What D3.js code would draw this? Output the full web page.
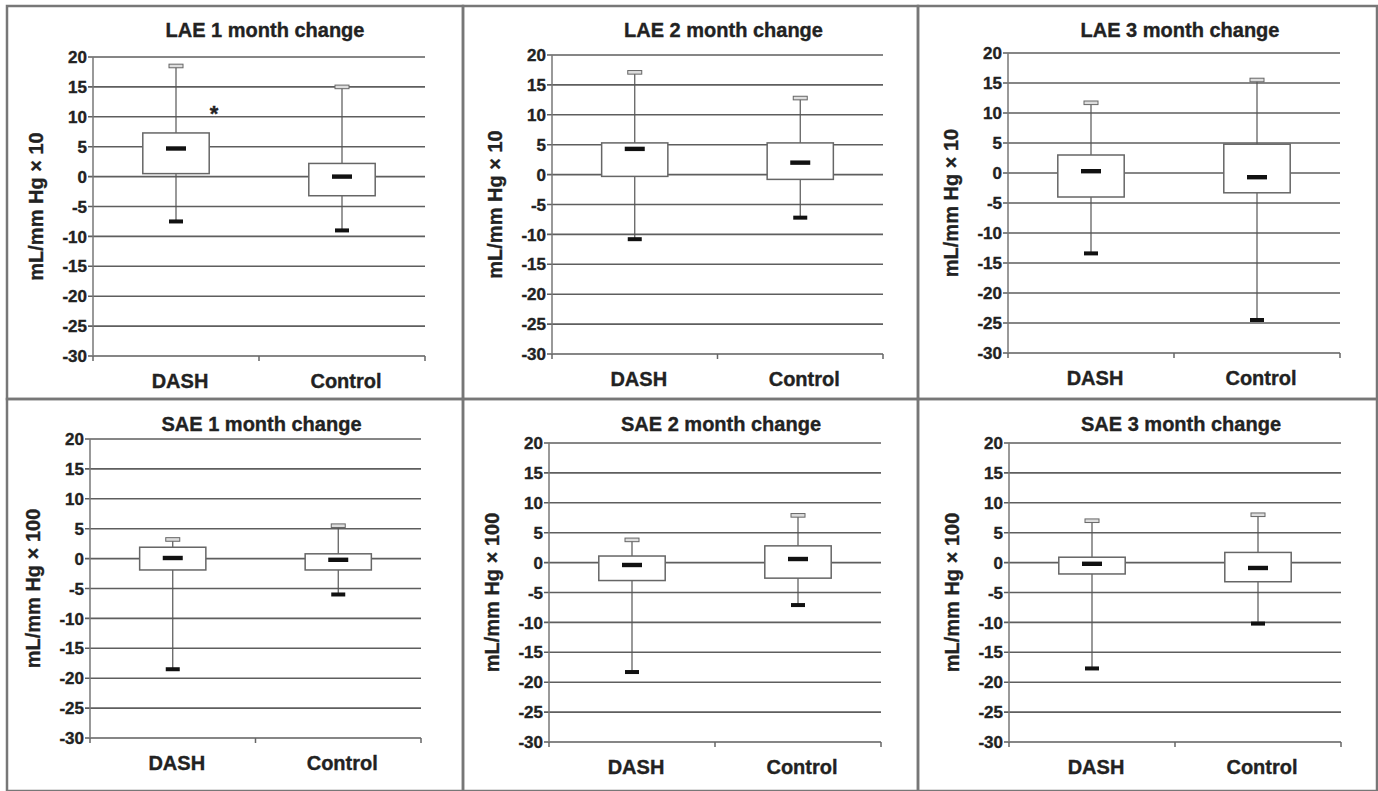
<!DOCTYPE html>
<html>
<head>
<meta charset="utf-8">
<script src="https://cdn.jsdelivr.net/npm/d3@7"></script>
<style>
  body { margin: 0; background: #fff; }
  text { font-family: Arial, "Liberation Sans", sans-serif; font-weight: bold; fill: #222; stroke: #222; stroke-width: 0.35px; }
</style>
</head>
<body>
<div id="chart"></div>
<script>
var categories = ['DASH', 'Control'];
var yTicks = [20, 15, 10, 5, 0, -5, -10, -15, -20, -25, -30];
var titles = ['LAE 1 month change', 'LAE 2 month change', 'LAE 3 month change',
              'SAE 1 month change', 'SAE 2 month change', 'SAE 3 month change'];
var yLabels = ['mL/mm Hg \u00d7 10', 'mL/mm Hg \u00d7 10', 'mL/mm Hg \u00d7 10',
               'mL/mm Hg \u00d7 100', 'mL/mm Hg \u00d7 100', 'mL/mm Hg \u00d7 100'];

// [min, q1, median, q3, max] for DASH, Control
var lae1 = [[-7.5, 0.5, 4.7, 7.3, 18.5], [-9.0, -3.2, 0.0, 2.2, 15.0]];
var lae2 = [[-10.8, -0.3, 4.3, 5.3, 17.1], [-7.2, -0.8, 2.0, 5.3, 12.8]];
var lae3 = [[-13.4, -4.0, 0.3, 3.0, 11.7], [-24.5, -3.3, -0.7, 4.8, 15.5]];
var sae1 = [[-18.5, -1.9, 0.1, 1.9, 3.2], [-6.0, -1.9, -0.2, 0.8, 5.5]];
var sae2 = [[-18.3, -3.0, -0.4, 1.1, 3.8], [-7.1, -2.6, 0.6, 2.8, 7.9]];
var sae3 = [[-17.7, -1.9, -0.2, 0.9, 7.0], [-10.2, -3.2, -0.9, 1.7, 8.0]];
var panelData = [lae1, lae2, lae3, sae1, sae2, sae3];

// significance marker: panel, category, value
var starMarks = [{ panel: 0, cat: 'DASH', value: 11.5 }];

var width = 1378, height = 791;

// panel frames and plot areas (left, top, right, bottom)
var frames = [[7, 6, 463, 399], [463, 6, 918, 399], [918, 6, 1377, 399],
              [7, 399, 463, 791], [463, 399, 918, 791], [918, 399, 1377, 791]];
var plots = [[93, 57, 425, 356], [552, 55, 883, 354], [1008, 53, 1340, 353],
             [90, 439, 421, 738], [549, 443, 881, 742], [1009, 443, 1341, 742]];

var svg = d3.select('#chart')
  .append('svg')
  .attr('width', width)
  .attr('height', height);

svg.selectAll('rect.frame')
  .data(frames)
  .enter()
  .append('rect')
  .attr('class', 'frame')
  .attr('x', function(d) { return d[0]; })
  .attr('y', function(d) { return d[1]; })
  .attr('width', function(d) { return d[2] - d[0]; })
  .attr('height', function(d) { return d[3] - d[1]; })
  .attr('fill', 'none')
  .attr('stroke', '#777')
  .attr('stroke-width', 2.5);

panelData.forEach(function(data, i) {
  var p = plots[i];
  var w = p[2] - p[0], h = p[3] - p[1];

  var g = svg.append('g')
    .attr('transform', 'translate(' + p[0] + ',' + p[1] + ')');

  var y = d3.scaleLinear().domain([-30, 20]).range([h, 0]);
  var x = d3.scaleBand().domain(categories).range([0, w]);
  var bw = x.bandwidth() * 0.4;

  // gridlines (the -30 line doubles as x axis)
  g.selectAll('line.grid')
    .data(yTicks)
    .enter()
    .append('line')
    .attr('x1', -5)
    .attr('x2', w)
    .attr('y1', function(d) { return y(d); })
    .attr('y2', function(d) { return y(d); })
    .attr('stroke', '#5e5e5e')
    .attr('stroke-width', 1.6);

  // y axis line
  g.append('line')
    .attr('x1', 0).attr('x2', 0)
    .attr('y1', 0).attr('y2', h)
    .attr('stroke', '#777')
    .attr('stroke-width', 1.5);

  // x ticks at band edges
  g.selectAll('line.xtick')
    .data([0, x.bandwidth(), w])
    .enter()
    .append('line')
    .attr('x1', function(d) { return d; })
    .attr('x2', function(d) { return d; })
    .attr('y1', h)
    .attr('y2', h + 5)
    .attr('stroke', '#666')
    .attr('stroke-width', 1.5);

  // y tick labels
  g.selectAll('text.ytick')
    .data(yTicks)
    .enter()
    .append('text')
    .attr('x', -6)
    .attr('y', function(d) { return y(d); })
    .attr('dy', '0.36em')
    .attr('text-anchor', 'end')
    .style('font-size', '17px')
    .text(function(d) { return d; });

  // category labels
  g.selectAll('text.cat')
    .data(categories)
    .enter()
    .append('text')
    .attr('x', function(d) { return x(d) + x.bandwidth() / 2 + 4; })
    .attr('y', h + 32)
    .attr('text-anchor', 'middle')
    .style('font-size', '20px')
    .text(function(d) { return d; });

  // title
  g.append('text')
    .attr('x', w / 2 + 6)
    .attr('y', (i < 3 ? 37 : 431) - p[1])
    .attr('text-anchor', 'middle')
    .style('font-size', '20px')
    .text(titles[i]);

  // y label
  g.append('text')
    .attr('transform', 'translate(' + (-50) + ',' + (h / 2) + ') rotate(-90)')
    .attr('text-anchor', 'middle')
    .style('font-size', '20px')
    .text(yLabels[i]);

  var box = g.selectAll('g.box')
    .data(data)
    .enter()
    .append('g')
    .attr('transform', function(d, j) {
      return 'translate(' + (x(categories[j]) + x.bandwidth() / 2) + ',0)';
    });

  // whisker
  box.append('line')
    .attr('x1', 0).attr('x2', 0)
    .attr('y1', function(d) { return y(d[4]); })
    .attr('y2', function(d) { return y(d[0]); })
    .attr('stroke', '#555')
    .attr('stroke-width', 1.2);

  // interquartile box
  box.append('rect')
    .attr('x', -bw / 2)
    .attr('width', bw)
    .attr('y', function(d) { return y(d[3]); })
    .attr('height', function(d) { return y(d[1]) - y(d[3]); })
    .attr('fill', '#fff')
    .attr('stroke', '#666')
    .attr('stroke-width', 1.5);

  // median
  box.append('rect')
    .attr('x', -10)
    .attr('width', 20)
    .attr('y', function(d) { return y(d[2]) - 2.2; })
    .attr('height', 4.4)
    .attr('fill', '#111');

  // max cap (hollow)
  box.append('rect')
    .attr('x', -7)
    .attr('width', 14)
    .attr('y', function(d) { return y(d[4]) - 1.8; })
    .attr('height', 3.6)
    .attr('fill', '#ddd')
    .attr('stroke', '#666')
    .attr('stroke-width', 1);

  // min cap (solid)
  box.append('rect')
    .attr('x', -7)
    .attr('width', 14)
    .attr('y', function(d) { return y(d[0]) - 2; })
    .attr('height', 4)
    .attr('fill', '#111');

  starMarks.filter(function(s) { return s.panel === i; }).forEach(function(s) {
    g.append('text')
      .attr('x', x(s.cat) + x.bandwidth() / 2 + 38)
      .attr('y', y(s.value))
      .attr('dy', 13)
      .attr('text-anchor', 'middle')
      .style('font-size', '22px')
      .text('*');
  });
});
</script>
</body>
</html>
